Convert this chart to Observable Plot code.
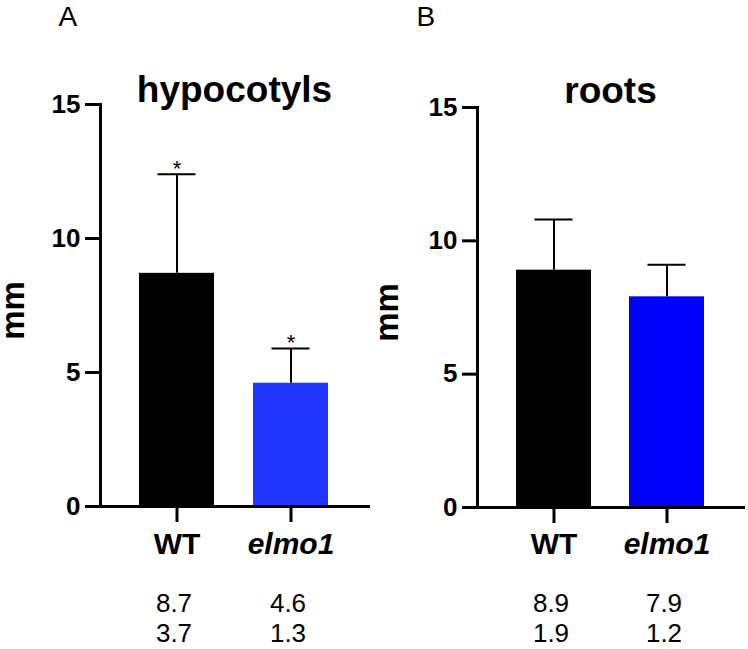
<!DOCTYPE html>
<html>
<head>
<meta charset="utf-8">
<script src="https://cdn.jsdelivr.net/npm/d3@7"></script>
<script src="https://cdn.jsdelivr.net/npm/@observablehq/plot@0.6"></script>
<style>
  html, body { margin: 0; padding: 0; background: #fff; }
  #wrap { position: relative; width: 748px; height: 649px; }
  #wrap > svg { position: absolute; top: 0; }
</style>
</head>
<body>
<div id="wrap"></div>
<script>
// ---- data ----
const categories = ["WT", "elmo1"];
const hypocotylMean = [8.7, 4.6];
const hypocotylSD = [3.7, 1.3];
const hypocotylSig = ["*", "*"];
const rootMean = [8.9, 7.9];
const rootSD = [1.9, 1.2];
const rootSig = ["", ""];
const yTicks = [0, 5, 10, 15];
const panelLetters = ["A", "B"];
const panelTitles = ["hypocotyls", "roots"];
const yLabel = "mm";
const paletteA = ["#000000", "#1f36ff"];
const paletteB = ["#000000", "#0000ff"];

const FONT = "Liberation Sans, Arial, Helvetica, sans-serif";

function panel(cfg) {
  const rows = categories.map((c, i) => ({
    cat: c, mean: cfg.mean[i], sd: cfg.sd[i], top: cfg.mean[i] + cfg.sd[i],
    sig: cfg.sig[i], color: cfg.palette[i]
  }));
  const svg = Plot.plot({
    width: 374,
    height: 649,
    marginLeft: cfg.ml,
    marginRight: cfg.mr,
    marginTop: cfg.mt,
    marginBottom: cfg.mb,
    style: { fontFamily: FONT, background: "transparent", overflow: "visible" },
    x: { domain: categories, padding: 0.34, label: null },
    y: { domain: [0, 15], label: null },
    marks: [
      Plot.barY(rows, { x: "cat", y: "mean", fill: "color" }),
      Plot.ruleX(rows, { x: "cat", y1: "mean", y2: "top", stroke: "#000", strokeWidth: 2 }),
      Plot.tickY(rows, { x: "cat", y: "top", stroke: "#000", strokeWidth: 2, insetLeft: 18.5, insetRight: 18.5 }),
      Plot.text(rows.filter(d => d.sig), { x: "cat", y: "top", text: "sig", fontSize: 22, lineAnchor: "middle", dy: -5, fill: "#000" }),
      Plot.frame({ anchor: "left", stroke: "#000", strokeWidth: 3 }),
      Plot.frame({ anchor: "bottom", stroke: "#000", strokeWidth: 3 }),
      Plot.axisY({ ticks: yTicks, tickSize: 15, tickPadding: 5, strokeWidth: 3, fontSize: 26, fontWeight: "bold", fill: "#000", label: null, stroke: "#000" }),
      Plot.axisX({ tickSize: 16, strokeWidth: 3, stroke: "#000", tickFormat: () => "", label: null }),
      Plot.text(rows.filter(d => d.cat === "WT"), { x: "cat", frameAnchor: "bottom", text: "cat", lineAnchor: "top", dy: cfg.catDy, fontSize: 30, fontWeight: "bold", fill: "#000" }),
      Plot.text(rows.filter(d => d.cat !== "WT"), { x: "cat", frameAnchor: "bottom", text: "cat", lineAnchor: "top", dy: cfg.catDy, fontSize: 30, fontWeight: "bold", fontStyle: "italic", fill: "#000" }),
      Plot.text(rows, { x: "cat", frameAnchor: "bottom", text: d => d.mean.toFixed(1), lineAnchor: "top", dy: cfg.row1Dy, dx: -3, fontSize: 26, fill: "#000" }),
      Plot.text(rows, { x: "cat", frameAnchor: "bottom", text: d => d.sd.toFixed(1), lineAnchor: "top", dy: cfg.row2Dy, dx: -3, fontSize: 26, fill: "#000" }),
      Plot.text([cfg.title], { frameAnchor: "top", text: d => d, lineAnchor: "bottom", dy: cfg.titleDy, fontSize: 37, fontWeight: "bold", fill: "#000" }),
      Plot.text([cfg.letter], { frameAnchor: "top-left", text: d => d, textAnchor: "start", lineAnchor: "bottom", dx: cfg.letterDx, dy: cfg.letterDy, fontSize: 28, fill: "#000" }),
      Plot.text([yLabel], { frameAnchor: "left", text: d => d, rotate: -90, textAnchor: "middle", lineAnchor: "bottom", dx: cfg.mmDx, dy: 5, fontSize: 33, fontWeight: "bold", fill: "#000" })
    ]
  });
  svg.style.left = cfg.left + "px";
  return svg;
}

const wrap = document.getElementById("wrap");
wrap.appendChild(panel({
  left: 0, ml: 100, mr: 6, mt: 104, mb: 143,
  mean: hypocotylMean, sd: hypocotylSD, sig: hypocotylSig, palette: paletteA,
  title: panelTitles[0], letter: panelLetters[0],
  titleDy: -3, letterDx: -42, letterDy: -79, mmDx: -77,
  catDy: 26, row1Dy: 87, row2Dy: 117
}));
wrap.appendChild(panel({
  left: 374, ml: 103, mr: 5, mt: 107, mb: 142,
  mean: rootMean, sd: rootSD, sig: rootSig, palette: paletteB,
  title: panelTitles[1], letter: panelLetters[1],
  titleDy: -5, letterDx: -61, letterDy: -82, mmDx: -80,
  catDy: 25, row1Dy: 86, row2Dy: 116
}));
</script>
</body>
</html>
